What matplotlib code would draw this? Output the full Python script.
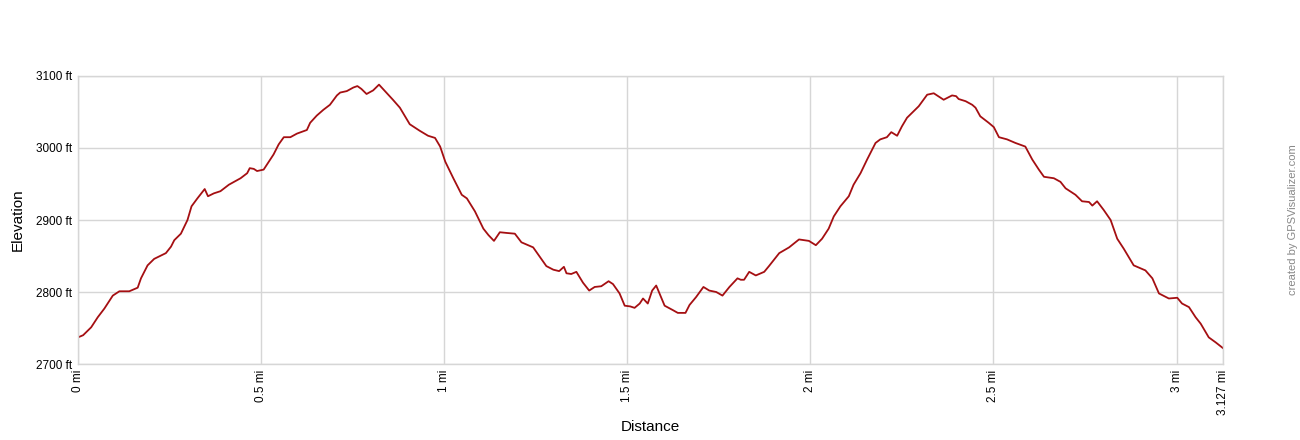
import matplotlib.pyplot as plt

# distance (mi) and elevation (ft)
dist = [0.0, 0.014, 0.036, 0.054, 0.072, 0.095, 0.113, 0.140, 0.163, 0.172,
        0.190, 0.208, 0.240, 0.254, 0.263, 0.281, 0.299, 0.310, 0.326, 0.346,
        0.355, 0.371, 0.389, 0.412, 0.426, 0.444, 0.462, 0.469, 0.480, 0.489,
        0.507, 0.521, 0.534, 0.548, 0.562, 0.580, 0.598, 0.625, 0.634, 0.652,
        0.670, 0.688, 0.707, 0.716, 0.734, 0.752, 0.763, 0.774, 0.788, 0.806,
        0.822, 0.842, 0.860, 0.879, 0.893, 0.906, 0.933, 0.956, 0.975, 0.989,
        1.003, 1.025, 1.048, 1.062, 1.084, 1.107, 1.121, 1.136, 1.152, 1.171,
        1.193, 1.211, 1.225, 1.243, 1.261, 1.279, 1.298, 1.314, 1.327, 1.334,
        1.347, 1.361, 1.379, 1.396, 1.411, 1.429, 1.449, 1.461, 1.479, 1.493,
        1.508, 1.520, 1.534, 1.543, 1.556, 1.568, 1.579, 1.588, 1.602, 1.624,
        1.638, 1.659, 1.670, 1.688, 1.708, 1.724, 1.743, 1.760, 1.779, 1.801,
        1.810, 1.819, 1.833, 1.851, 1.874, 1.887, 1.915, 1.942, 1.969, 1.996,
        2.015, 2.032, 2.050, 2.064, 2.082, 2.105, 2.118, 2.137, 2.155, 2.178,
        2.191, 2.209, 2.221, 2.237, 2.250, 2.264, 2.282, 2.296, 2.319, 2.337,
        2.364, 2.387, 2.398, 2.405, 2.424, 2.442, 2.451, 2.464, 2.487, 2.501,
        2.515, 2.537, 2.560, 2.587, 2.606, 2.624, 2.638, 2.665, 2.683, 2.697,
        2.724, 2.742, 2.761, 2.770, 2.783, 2.801, 2.820, 2.838, 2.856, 2.883,
        2.915, 2.934, 2.952, 2.979, 3.002, 3.015, 3.034, 3.052, 3.066, 3.088,
        3.107, 3.127]
elev = [2737, 2740, 2751, 2765, 2777, 2795, 2801, 2801, 2806, 2819,
        2837, 2846, 2854, 2863, 2872, 2881, 2900, 2919, 2930, 2943,
        2933, 2937, 2940, 2949, 2953, 2958, 2965, 2972, 2971, 2968,
        2970, 2981, 2991, 3005, 3015, 3015, 3020, 3025, 3035, 3045,
        3053, 3060, 3073, 3077, 3079, 3084, 3086, 3082, 3075, 3080,
        3088, 3077, 3067, 3056, 3044, 3033, 3024, 3017, 3014, 3002,
        2981, 2958, 2935, 2930, 2912, 2888, 2879, 2871, 2883, 2882,
        2881, 2869, 2866, 2862, 2849, 2836, 2831, 2829, 2835, 2826,
        2825, 2828, 2813, 2802, 2807, 2808, 2815, 2811, 2798, 2781,
        2780, 2778, 2784, 2791, 2784, 2802, 2809, 2798, 2781, 2775,
        2771, 2771, 2782, 2793, 2807, 2802, 2800, 2795, 2807, 2819,
        2817, 2817, 2828, 2823, 2828, 2836, 2854, 2862, 2873, 2871,
        2865, 2874, 2888, 2905, 2919, 2933, 2949, 2965, 2984, 3007,
        3012, 3015, 3022, 3017, 3030, 3042, 3051, 3058, 3074, 3076,
        3067, 3073, 3072, 3068, 3065, 3060, 3056, 3044, 3035, 3029,
        3015, 3012, 3007, 3002, 2984, 2970, 2960, 2958, 2953, 2944,
        2935, 2926, 2925, 2920, 2926, 2914, 2900, 2874, 2860, 2837,
        2830, 2819, 2798, 2791, 2792, 2784, 2779, 2765, 2756, 2737,
        2730, 2722]

x_ticks = [0, 0.5, 1, 1.5, 2, 2.5, 3, 3.127]
x_labels = ["0 mi", "0.5 mi", "1 mi", "1.5 mi", "2 mi", "2.5 mi", "3 mi", "3.127 mi"]
y_ticks = [2700, 2800, 2900, 3000, 3100]
y_labels = ["2700 ft", "2800 ft", "2900 ft", "3000 ft", "3100 ft"]

plt.rcParams["font.family"] = ["Liberation Sans", "DejaVu Sans"]

fig = plt.figure(figsize=(13, 4.4), dpi=100)
ax = fig.add_axes([0.06, 0.1727, 0.8808, 0.6546])

ax.plot(dist, elev, color="#a50f12", lw=1.3)

ax.set_xlim(0, 3.127)
ax.set_ylim(2700, 3100)
ax.set_xticks(x_ticks)
ax.set_xticklabels(x_labels, rotation=90, fontsize=8.5)
ax.set_yticks(y_ticks)
ax.set_yticklabels(y_labels, fontsize=8.5)
ax.tick_params(length=0, pad=4)
ax.grid(True, color="#d6d6d6", lw=1)
for s in ax.spines.values():
    s.set_color("#d6d6d6")
    s.set_linewidth(1)

ax.set_xlabel("Distance", fontsize=11, labelpad=4)
ax.set_ylabel("Elevation", fontsize=11, labelpad=8)

fig.text(0.9946, 0.5, "created by GPSVisualizer.com", rotation=90,
         fontsize=8, color="#888888", ha="center", va="center")

fig.savefig("out.png")
